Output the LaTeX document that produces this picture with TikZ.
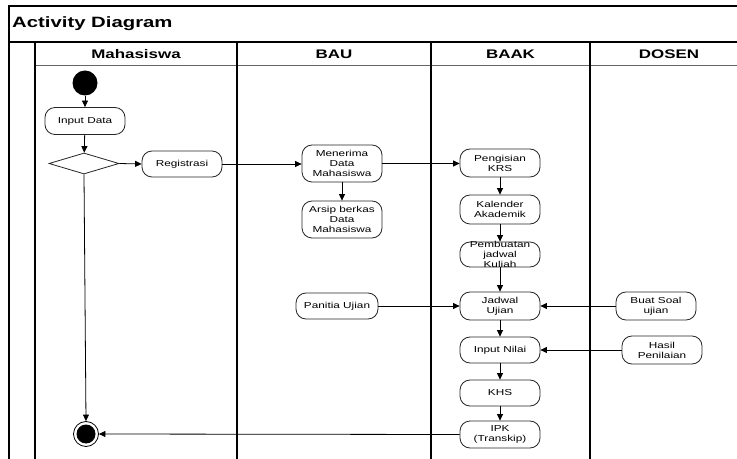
\documentclass[tikz,border=0pt]{standalone}
\usepackage{fontspec}
\setmainfont{Liberation Sans}
% wide-set sans for the swimlane labels and activity texts
\newfontfamily\widesans[FakeStretch=1.36]{Liberation Sans}
\usetikzlibrary{arrows.meta,shapes.geometric}

\tikzset{
  act/.style={draw=black!85, line width=0.8bp, rounded corners=10bp,
    minimum width=80bp, minimum height=27bp, inner sep=1bp, align=center,
    font=\widesans\fontsize{8.7}{10}\selectfont},
  acttext/.style={inner sep=0, align=center,
    font=\widesans\fontsize{8.7}{10}\selectfont},
  flow/.style={draw=black, line width=0.8bp,
    -{Triangle[length=6.5bp,width=6bp]}},
  lane/.style={draw=black, line width=1.3bp},
  headline/.style={draw=black!60, line width=1bp},
  lanetitle/.style={font=\widesans\bfseries\fontsize{12.5}{14}\selectfont},
}

\begin{document}
\begin{tikzpicture}[x=1bp, y=-1bp]
  \useasboundingbox (0,0) rectangle (737,459);
  \clip (0,0) rectangle (737,459);
  \fill[white] (0,0) rectangle (737,459);

  % pool frame, title bar and swimlanes
  \draw[lane] (9,470) -- (9,6) -- (760,6);
  \draw[lane] (9,42) -- (760,42);
  \draw[headline] (35,66) -- (760,66);
  \draw[lane] (35,42) -- (35,470);
  \draw[lane] (237,42) -- (237,470);
  \draw[lane] (431,42) -- (431,470);
  \draw[lane] (590,42) -- (590,470);

  \node[anchor=west, inner sep=0,
        font=\widesans\bfseries\fontsize{15}{17}\selectfont]
        (title) at (12,24) {Activity Diagram};
  \node[lanetitle] (hmhs)  at (136,54.5) {Mahasiswa};
  \node[lanetitle] (hbau)  at (334,54.5) {BAU};
  \node[lanetitle] (hbaak) at (510.5,54.5) {BAAK};
  \node[lanetitle] (hdos)  at (669,54.5) {DOSEN};

  % Mahasiswa lane
  \node[circle, fill=black, minimum size=25bp, inner sep=0] (start) at (85,83) {};
  \node[act] (input) at (85,121) {Input Data};
  \node[diamond, draw=black!85, line width=0.8bp, minimum width=70bp,
        minimum height=21bp, inner sep=0] (dec) at (84,163.5) {};
  \node[act, minimum height=26bp] (reg) at (182,164) {Registrasi};
  \node[circle, draw=black, line width=0.8bp, minimum size=25bp, inner sep=0]
        (end) at (86,434) {};
  \fill[black] (end.center) circle (9.5bp);

  % BAU lane
  \node[act, minimum height=37bp] (terima) at (342,163.5) {Menerima\\Data\\Mahasiswa};
  \node[act, minimum height=37bp] (arsip) at (342,219.5) {Arsip berkas\\Data\\Mahasiswa};
  \node[act, minimum width=82bp, minimum height=26bp] (panitia) at (337,306) {Panitia Ujian};

  % BAAK lane
  \node[act, minimum height=28bp] (krs) at (500,163) {Pengisian\\KRS};
  \node[act, minimum height=29bp] (kal) at (500,209.5) {Kalender\\Akademik};
  \node[act, minimum height=25bp] (jkul) at (500,254.5) {};
  \node[acttext] (jkultxt) at (jkul) {Pembuatan\\jadwal\\Kuliah};
  \node[act, minimum height=28bp] (jujian) at (500,306) {Jadwal\\Ujian};
  \node[act, minimum height=26bp] (nilai) at (500,350) {Input Nilai};
  \node[act, minimum height=26bp] (khs) at (500,393) {KHS};
  \node[act, minimum height=27bp] (ipk) at (500,434.5) {IPK\\(Transkip)};

  % DOSEN lane
  \node[act, minimum height=28bp] (soal) at (656,306) {Buat Soal\\ujian};
  \node[act, minimum height=28bp] (hasil) at (662,350) {Hasil\\Penilaian};

  % control flows
  \draw[flow] (start) -- (input);
  \draw[flow] (input) -- (dec);
  \draw[flow] (dec.east) -- (reg.west);
  \draw[flow] (reg.east) -- (terima.west |- reg.east);
  \draw[flow] (terima) -- (arsip);
  \draw[flow] (terima.east) -- (krs.west |- terima.east);
  \draw[flow] (krs) -- (kal);
  \draw[flow] (kal) -- (jkul);
  \draw[flow] (jkul) -- (jujian);
  \draw[flow] (panitia.east) -- (jujian.west);
  \draw[flow] (soal.west) -- (jujian.east);
  \draw[flow] (jujian) -- (nilai);
  \draw[flow] (hasil.west) -- (nilai.east);
  \draw[flow] (nilai) -- (khs);
  \draw[flow] (khs) -- (ipk);
  \draw[flow] (ipk.west) -- (end.east);
  \draw[flow] (dec.south) -- (end.north);
\end{tikzpicture}
\end{document}
